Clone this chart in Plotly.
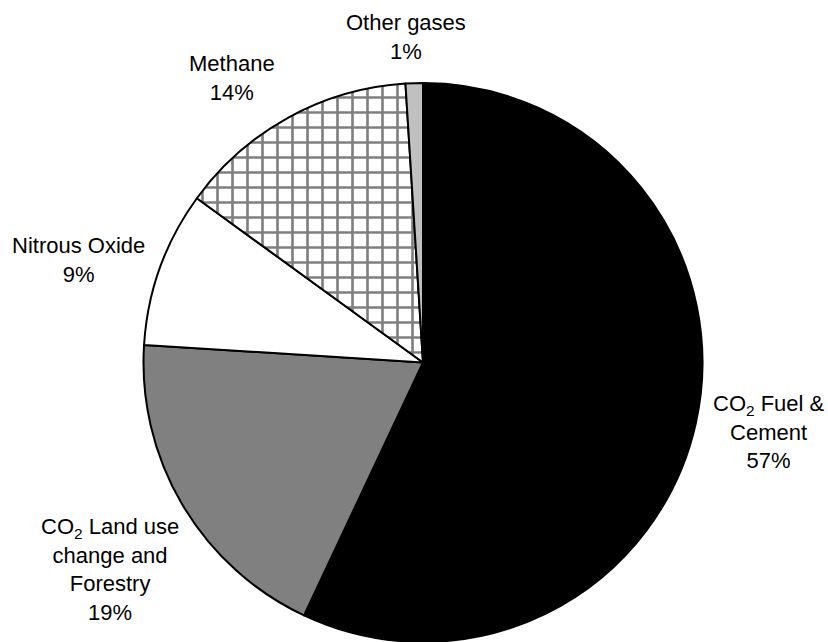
import plotly.graph_objects as go

# Greenhouse gas emission shares (%)
labels = ["CO<sub>2</sub> Fuel &<br>Cement", "CO<sub>2</sub> Land use<br>change and<br>Forestry",
          "Nitrous Oxide", "Methane", "Other gases"]
values = [57, 19, 9, 14, 1]
fill_colors = ["#000000", "#808080", "#ffffff", "#ffffff", "#c0c0c0"]
patterns = ["", "", "", "+", ""]

# label block centres in pixels (x from left, y from top)
label_pos = [(769, 432), (110, 569), (78, 260), (232, 78), (406, 37)]

W, H = 828, 642
cx, cy, r = 423, 362.5, 279.5

fig = go.Figure(go.Pie(
    labels=labels,
    values=values,
    sort=False,
    direction="clockwise",
    rotation=0,
    textinfo="none",
    hoverinfo="label+percent",
    showlegend=False,
    marker=dict(
        colors=fill_colors,
        line=dict(color="#000000", width=2),
        pattern=dict(shape=patterns, size=15, solidity=0.32,
                     fgcolor="#000000", bgcolor="#ffffff", fillmode="overlay"),
    ),
    domain=dict(x=[(cx - r) / W, (cx + r) / W], y=[0, (2 * r) / H]),
))

for lab, val, (px, py) in zip(labels, values, label_pos):
    fig.add_annotation(
        x=px / W, y=1 - py / H, xref="paper", yref="paper",
        text=f"{lab}<br>{val}%",
        showarrow=False, xanchor="center", yanchor="middle", align="center",
        font=dict(family="Liberation Sans, Arial, sans-serif", size=22, color="#000000"),
    )

fig.update_layout(
    width=W, height=H,
    margin=dict(l=0, r=0, t=0, b=0),
    paper_bgcolor="#ffffff",
    plot_bgcolor="#ffffff",
)

fig.write_html("out.html")
